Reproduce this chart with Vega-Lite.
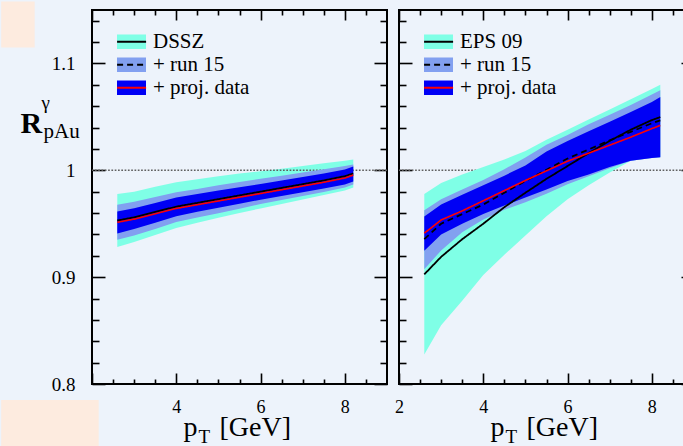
{
  "$schema": "https://vega.github.io/schema/vega-lite/v6.json",
  "background": "#edf3fb",
  "padding": 0,
  "bounds": "flush",
  "spacing": 12,
  "datasets": {
    "bandsL": [
      {"pt": 2.6, "band": "DSSZ", "lo": 0.9283, "hi": 0.9777},
      {"pt": 3.0, "band": "DSSZ", "lo": 0.9330, "hi": 0.9800},
      {"pt": 3.5, "band": "DSSZ", "lo": 0.9395, "hi": 0.9845},
      {"pt": 4.0, "band": "DSSZ", "lo": 0.9460, "hi": 0.9887},
      {"pt": 4.5, "band": "DSSZ", "lo": 0.9508, "hi": 0.9915},
      {"pt": 5.0, "band": "DSSZ", "lo": 0.9555, "hi": 0.9945},
      {"pt": 5.5, "band": "DSSZ", "lo": 0.9600, "hi": 0.9970},
      {"pt": 6.0, "band": "DSSZ", "lo": 0.9643, "hi": 0.9990},
      {"pt": 6.5, "band": "DSSZ", "lo": 0.9685, "hi": 1.0015},
      {"pt": 7.0, "band": "DSSZ", "lo": 0.9727, "hi": 1.0040},
      {"pt": 7.5, "band": "DSSZ", "lo": 0.9768, "hi": 1.0065},
      {"pt": 8.0, "band": "DSSZ", "lo": 0.9812, "hi": 1.0090},
      {"pt": 8.2, "band": "DSSZ", "lo": 0.9840, "hi": 1.0100},
      {"pt": 2.6, "band": "+ run 15", "lo": 0.9350, "hi": 0.9678},
      {"pt": 3.0, "band": "+ run 15", "lo": 0.9390, "hi": 0.9705},
      {"pt": 3.5, "band": "+ run 15", "lo": 0.9450, "hi": 0.9750},
      {"pt": 4.0, "band": "+ run 15", "lo": 0.9515, "hi": 0.9795},
      {"pt": 4.5, "band": "+ run 15", "lo": 0.9558, "hi": 0.9825},
      {"pt": 5.0, "band": "+ run 15", "lo": 0.9598, "hi": 0.9860},
      {"pt": 5.5, "band": "+ run 15", "lo": 0.9640, "hi": 0.9890},
      {"pt": 6.0, "band": "+ run 15", "lo": 0.9684, "hi": 0.9920},
      {"pt": 6.5, "band": "+ run 15", "lo": 0.9722, "hi": 0.9950},
      {"pt": 7.0, "band": "+ run 15", "lo": 0.9760, "hi": 0.9980},
      {"pt": 7.5, "band": "+ run 15", "lo": 0.9797, "hi": 1.0010},
      {"pt": 8.0, "band": "+ run 15", "lo": 0.9838, "hi": 1.0040},
      {"pt": 8.2, "band": "+ run 15", "lo": 0.9866, "hi": 1.0055},
      {"pt": 2.6, "band": "+ proj. data", "lo": 0.9408, "hi": 0.9615},
      {"pt": 3.0, "band": "+ proj. data", "lo": 0.9450, "hi": 0.9645},
      {"pt": 3.5, "band": "+ proj. data", "lo": 0.9510, "hi": 0.9695},
      {"pt": 4.0, "band": "+ proj. data", "lo": 0.9570, "hi": 0.9745},
      {"pt": 4.5, "band": "+ proj. data", "lo": 0.9612, "hi": 0.9778},
      {"pt": 5.0, "band": "+ proj. data", "lo": 0.9650, "hi": 0.9810},
      {"pt": 5.5, "band": "+ proj. data", "lo": 0.9688, "hi": 0.9842},
      {"pt": 6.0, "band": "+ proj. data", "lo": 0.9725, "hi": 0.9872},
      {"pt": 6.5, "band": "+ proj. data", "lo": 0.9760, "hi": 0.9905},
      {"pt": 7.0, "band": "+ proj. data", "lo": 0.9795, "hi": 0.9938},
      {"pt": 7.5, "band": "+ proj. data", "lo": 0.9830, "hi": 0.9970},
      {"pt": 8.0, "band": "+ proj. data", "lo": 0.9868, "hi": 1.0008},
      {"pt": 8.2, "band": "+ proj. data", "lo": 0.9894, "hi": 1.0035}
    ],
    "linesL": [
      {"pt": 2.6, "curve": "central", "r": 0.9530},
      {"pt": 3.0, "curve": "central", "r": 0.9560},
      {"pt": 3.5, "curve": "central", "r": 0.9610},
      {"pt": 4.0, "curve": "central", "r": 0.9660},
      {"pt": 4.5, "curve": "central", "r": 0.9695},
      {"pt": 5.0, "curve": "central", "r": 0.9730},
      {"pt": 5.5, "curve": "central", "r": 0.9765},
      {"pt": 6.0, "curve": "central", "r": 0.9800},
      {"pt": 6.5, "curve": "central", "r": 0.9835},
      {"pt": 7.0, "curve": "central", "r": 0.9870},
      {"pt": 7.5, "curve": "central", "r": 0.9905},
      {"pt": 8.0, "curve": "central", "r": 0.9945},
      {"pt": 8.2, "curve": "central", "r": 0.9970},
      {"pt": 2.6, "curve": "proj. data", "r": 0.9513},
      {"pt": 3.0, "curve": "proj. data", "r": 0.9543},
      {"pt": 3.5, "curve": "proj. data", "r": 0.9593},
      {"pt": 4.0, "curve": "proj. data", "r": 0.9643},
      {"pt": 4.5, "curve": "proj. data", "r": 0.9678},
      {"pt": 5.0, "curve": "proj. data", "r": 0.9713},
      {"pt": 5.5, "curve": "proj. data", "r": 0.9748},
      {"pt": 6.0, "curve": "proj. data", "r": 0.9783},
      {"pt": 6.5, "curve": "proj. data", "r": 0.9818},
      {"pt": 7.0, "curve": "proj. data", "r": 0.9853},
      {"pt": 7.5, "curve": "proj. data", "r": 0.9888},
      {"pt": 8.0, "curve": "proj. data", "r": 0.9928},
      {"pt": 8.2, "curve": "proj. data", "r": 0.9955}
    ],
    "bandsR": [
      {"pt": 2.6, "band": "EPS 09", "lo": 0.8275, "hi": 0.9777},
      {"pt": 3.0, "band": "EPS 09", "lo": 0.8550, "hi": 0.9880},
      {"pt": 3.5, "band": "EPS 09", "lo": 0.8780, "hi": 0.9960},
      {"pt": 4.0, "band": "EPS 09", "lo": 0.9020, "hi": 1.0030},
      {"pt": 4.5, "band": "EPS 09", "lo": 0.9210, "hi": 1.0100},
      {"pt": 5.0, "band": "EPS 09", "lo": 0.9390, "hi": 1.0180},
      {"pt": 5.5, "band": "EPS 09", "lo": 0.9570, "hi": 1.0285},
      {"pt": 6.0, "band": "EPS 09", "lo": 0.9730, "hi": 1.0380},
      {"pt": 6.5, "band": "EPS 09", "lo": 0.9860, "hi": 1.0475},
      {"pt": 7.0, "band": "EPS 09", "lo": 0.9980, "hi": 1.0570},
      {"pt": 7.5, "band": "EPS 09", "lo": 1.0090, "hi": 1.0665},
      {"pt": 8.0, "band": "EPS 09", "lo": 1.0115, "hi": 1.0760},
      {"pt": 8.2, "band": "EPS 09", "lo": 1.0122, "hi": 1.0800},
      {"pt": 2.6, "band": "+ run 15", "lo": 0.9073, "hi": 0.9627},
      {"pt": 3.0, "band": "+ run 15", "lo": 0.9250, "hi": 0.9730},
      {"pt": 3.5, "band": "+ run 15", "lo": 0.9420, "hi": 0.9820},
      {"pt": 4.0, "band": "+ run 15", "lo": 0.9540, "hi": 0.9910},
      {"pt": 4.5, "band": "+ run 15", "lo": 0.9630, "hi": 1.0010},
      {"pt": 5.0, "band": "+ run 15", "lo": 0.9700, "hi": 1.0120},
      {"pt": 5.5, "band": "+ run 15", "lo": 0.9780, "hi": 1.0240},
      {"pt": 6.0, "band": "+ run 15", "lo": 0.9870, "hi": 1.0330},
      {"pt": 6.5, "band": "+ run 15", "lo": 0.9945, "hi": 1.0430},
      {"pt": 7.0, "band": "+ run 15", "lo": 1.0020, "hi": 1.0520},
      {"pt": 7.5, "band": "+ run 15", "lo": 1.0090, "hi": 1.0610},
      {"pt": 8.0, "band": "+ run 15", "lo": 1.0115, "hi": 1.0710},
      {"pt": 8.2, "band": "+ run 15", "lo": 1.0122, "hi": 1.0748},
      {"pt": 2.6, "band": "+ proj. data", "lo": 0.9246, "hi": 0.9568},
      {"pt": 3.0, "band": "+ proj. data", "lo": 0.9400, "hi": 0.9680},
      {"pt": 3.5, "band": "+ proj. data", "lo": 0.9500, "hi": 0.9770},
      {"pt": 4.0, "band": "+ proj. data", "lo": 0.9590, "hi": 0.9860},
      {"pt": 4.5, "band": "+ proj. data", "lo": 0.9670, "hi": 0.9950},
      {"pt": 5.0, "band": "+ proj. data", "lo": 0.9746, "hi": 1.0045},
      {"pt": 5.5, "band": "+ proj. data", "lo": 0.9820, "hi": 1.0175},
      {"pt": 6.0, "band": "+ proj. data", "lo": 0.9900, "hi": 1.0275},
      {"pt": 6.5, "band": "+ proj. data", "lo": 0.9960, "hi": 1.0365},
      {"pt": 7.0, "band": "+ proj. data", "lo": 1.0030, "hi": 1.0455},
      {"pt": 7.5, "band": "+ proj. data", "lo": 1.0090, "hi": 1.0545},
      {"pt": 8.0, "band": "+ proj. data", "lo": 1.0115, "hi": 1.0640},
      {"pt": 8.2, "band": "+ proj. data", "lo": 1.0122, "hi": 1.0685}
    ],
    "linesR": [
      {"pt": 2.6, "curve": "central", "r": 0.9026},
      {"pt": 3.0, "curve": "central", "r": 0.9190},
      {"pt": 3.5, "curve": "central", "r": 0.9355},
      {"pt": 4.0, "curve": "central", "r": 0.9500},
      {"pt": 4.5, "curve": "central", "r": 0.9655},
      {"pt": 5.0, "curve": "central", "r": 0.9790},
      {"pt": 5.5, "curve": "central", "r": 0.9920},
      {"pt": 6.0, "curve": "central", "r": 1.0040},
      {"pt": 6.5, "curve": "central", "r": 1.0160},
      {"pt": 7.0, "curve": "central", "r": 1.0275},
      {"pt": 7.5, "curve": "central", "r": 1.0380},
      {"pt": 8.0, "curve": "central", "r": 1.0470},
      {"pt": 8.2, "curve": "central", "r": 1.0498},
      {"pt": 2.6, "curve": "run 15", "r": 0.9355},
      {"pt": 3.0, "curve": "run 15", "r": 0.9500},
      {"pt": 3.5, "curve": "run 15", "r": 0.9590},
      {"pt": 4.0, "curve": "run 15", "r": 0.9680},
      {"pt": 4.5, "curve": "run 15", "r": 0.9790},
      {"pt": 5.0, "curve": "run 15", "r": 0.9900},
      {"pt": 5.5, "curve": "run 15", "r": 1.0005},
      {"pt": 6.0, "curve": "run 15", "r": 1.0110},
      {"pt": 6.5, "curve": "run 15", "r": 1.0195},
      {"pt": 7.0, "curve": "run 15", "r": 1.0280},
      {"pt": 7.5, "curve": "run 15", "r": 1.0360},
      {"pt": 8.0, "curve": "run 15", "r": 1.0440},
      {"pt": 8.2, "curve": "run 15", "r": 1.0467},
      {"pt": 2.6, "curve": "proj. data", "r": 0.9411},
      {"pt": 3.0, "curve": "proj. data", "r": 0.9535},
      {"pt": 3.5, "curve": "proj. data", "r": 0.9620},
      {"pt": 4.0, "curve": "proj. data", "r": 0.9715},
      {"pt": 4.5, "curve": "proj. data", "r": 0.9810},
      {"pt": 5.0, "curve": "proj. data", "r": 0.9905},
      {"pt": 5.5, "curve": "proj. data", "r": 0.9995},
      {"pt": 6.0, "curve": "proj. data", "r": 1.0085},
      {"pt": 6.5, "curve": "proj. data", "r": 1.0160},
      {"pt": 7.0, "curve": "proj. data", "r": 1.0235},
      {"pt": 7.5, "curve": "proj. data", "r": 1.0310},
      {"pt": 8.0, "curve": "proj. data", "r": 1.0390},
      {"pt": 8.2, "curve": "proj. data", "r": 1.0420}
    ],
    "reference": [{"ref": 1}]
  },
  "hconcat": [
    {
      "width": 295,
      "height": 374,
      "resolve": {"axis": {"x": "independent", "y": "independent"}},
      "layer": [
        {
          "data": {"name": "bandsL"},
          "transform": [{"filter": "datum.band === 'DSSZ'"}],
          "mark": {"type": "area", "opacity": 1},
          "encoding": {
            "x": {"field": "pt", "type": "quantitative", "scale": {"domain": [2, 9], "nice": false, "zero": false},
                  "axis": {"orient": "bottom", "values": [2, 4, 6, 8], "tickSize": -11, "labelPadding": 25, "labelFontSize": 18, "title": "p", "titleX": 91, "titleY": 51, "titleAlign": "left", "titleBaseline": "alphabetic", "titleFontSize": 28}},
            "y": {"field": "lo", "type": "quantitative", "scale": {"domain": [0.8, 1.15], "nice": false, "zero": false},
                  "axis": {"orient": "left", "values": [0.8, 0.9, 1, 1.1], "format": "~g", "tickSize": -13, "labelPadding": 30, "title": "R", "titleX": -72, "titleY": 122, "titleAngle": 0, "titleAlign": "left", "titleBaseline": "alphabetic", "titleFontSize": 30, "titleFontWeight": "bold"}},
            "y2": {"field": "hi"},
            "fill": {"field": "band", "type": "nominal",
                     "scale": {"domain": ["DSSZ", "+ run 15", "+ proj. data"], "range": ["#7fffe6", "#82a0f0", "#0000f5"]},
                     "legend": {"orient": "none", "legendX": 25, "legendY": 21, "title": null, "symbolType": "M-1,-0.5H1V0.5H-1Z", "symbolSize": 841, "symbolStrokeWidth": 0, "symbolOpacity": 1, "labelFont": "Liberation Serif", "labelFontSize": 21, "labelColor": "#000", "labelOffset": 7, "clipHeight": 21.5, "rowPadding": 0, "padding": 0, "zindex": 1}}
          }
        },
        {
          "data": {"name": "reference"},
          "mark": {"type": "rule", "color": "#606060", "strokeWidth": 1.5, "strokeDash": [1.7, 1.6]},
          "encoding": {
            "y": {"field": "ref", "type": "quantitative", "scale": {"domain": [0.8, 1.15], "nice": false, "zero": false}, "axis": null}
          }
        },
        {
          "data": {"name": "bandsL"},
          "transform": [{"filter": "datum.band === '+ run 15'"}],
          "mark": {"type": "area", "opacity": 1},
          "encoding": {
            "x": {"field": "pt", "type": "quantitative", "scale": {"domain": [2, 9], "nice": false, "zero": false},
                  "axis": {"orient": "top", "values": [2, 4, 6, 8], "tickSize": -10, "labels": false, "title": null}},
            "y": {"field": "lo", "type": "quantitative", "scale": {"domain": [0.8, 1.15], "nice": false, "zero": false},
                  "axis": {"orient": "right", "values": [0.8, 0.9, 1, 1.1], "tickSize": -13, "labels": false, "title": null}},
            "y2": {"field": "hi"},
            "fill": {"field": "band", "type": "nominal",
                     "scale": {"domain": ["DSSZ", "+ run 15", "+ proj. data"], "range": ["#7fffe6", "#82a0f0", "#0000f5"]},
                     "legend": {"orient": "none", "legendX": 25, "legendY": 21, "title": null, "symbolType": "M-1,-0.5H1V0.5H-1Z", "symbolSize": 841, "symbolStrokeWidth": 0, "symbolOpacity": 1, "labelFont": "Liberation Serif", "labelFontSize": 21, "labelColor": "#000", "labelOffset": 7, "clipHeight": 21.5, "rowPadding": 0, "padding": 0, "zindex": 1}}
          }
        },
        {
          "data": {"name": "bandsL"},
          "transform": [{"filter": "datum.band === '+ proj. data'"}],
          "mark": {"type": "area", "opacity": 1},
          "encoding": {
            "x": {"field": "pt", "type": "quantitative", "scale": {"domain": [2, 9], "nice": false, "zero": false},
                  "axis": {"orient": "bottom", "values": [2.5, 3, 3.5, 4.5, 5, 5.5, 6.5, 7, 7.5, 8.5], "tickSize": -5, "labels": false, "title": "T", "titleX": 106, "titleY": 58, "titleAlign": "left", "titleBaseline": "alphabetic", "titleFontSize": 19}},
            "y": {"field": "lo", "type": "quantitative", "scale": {"domain": [0.8, 1.15], "nice": false, "zero": false},
                  "axis": {"orient": "left", "values": [0.82, 0.84, 0.86, 0.88, 0.92, 0.94, 0.96, 0.98, 1.02, 1.04, 1.06, 1.08, 1.12, 1.14], "tickSize": -7, "labels": false, "title": "γ", "titleX": -51, "titleY": 98, "titleAngle": 0, "titleAlign": "left", "titleBaseline": "alphabetic", "titleFontSize": 19}},
            "y2": {"field": "hi"},
            "fill": {"field": "band", "type": "nominal",
                     "scale": {"domain": ["DSSZ", "+ run 15", "+ proj. data"], "range": ["#7fffe6", "#82a0f0", "#0000f5"]},
                     "legend": {"orient": "none", "legendX": 25, "legendY": 21, "title": null, "symbolType": "M-1,-0.5H1V0.5H-1Z", "symbolSize": 841, "symbolStrokeWidth": 0, "symbolOpacity": 1, "labelFont": "Liberation Serif", "labelFontSize": 21, "labelColor": "#000", "labelOffset": 7, "clipHeight": 21.5, "rowPadding": 0, "padding": 0, "zindex": 1}}
          }
        },
        {
          "data": {"name": "linesL"},
          "transform": [{"filter": "datum.curve === 'central'"}],
          "mark": {"type": "line", "strokeWidth": 1.8},
          "encoding": {
            "x": {"field": "pt", "type": "quantitative", "scale": {"domain": [2, 9], "nice": false, "zero": false},
                  "axis": {"orient": "top", "values": [2.5, 3, 3.5, 4.5, 5, 5.5, 6.5, 7, 7.5, 8.5], "tickSize": -5, "labels": false, "title": null}},
            "y": {"field": "r", "type": "quantitative", "scale": {"domain": [0.8, 1.15], "nice": false, "zero": false},
                  "axis": {"orient": "right", "values": [0.82, 0.84, 0.86, 0.88, 0.92, 0.94, 0.96, 0.98, 1.02, 1.04, 1.06, 1.08, 1.12, 1.14], "tickSize": -7, "labels": false, "title": null}},
            "stroke": {"field": "curve", "type": "nominal",
                       "scale": {"domain": ["central", "run 15", "proj. data"], "range": ["#000000", "#000000", "#ff0000"]},
                       "legend": {"orient": "none", "legendX": 25, "legendY": 21, "title": null, "symbolType": "M-1,0H1", "symbolSize": 841, "symbolStrokeWidth": 1.8, "symbolOffset": -0.9, "labelFontSize": 21, "labelExpr": "''", "clipHeight": 21.5, "rowPadding": 0, "padding": 0, "zindex": 2}},
            "strokeDash": {"field": "curve", "type": "nominal",
                           "scale": {"domain": ["central", "run 15", "proj. data"], "range": [[1, 0], [6, 4], [1, 0]]},
                           "legend": {"orient": "none", "legendX": 25, "legendY": 21, "title": null, "symbolType": "M-1,0H1", "symbolSize": 841, "symbolStrokeWidth": 1.8, "symbolOffset": -0.9, "labelFontSize": 21, "labelExpr": "''", "clipHeight": 21.5, "rowPadding": 0, "padding": 0, "zindex": 2}}
          }
        },
        {
          "data": {"name": "linesL"},
          "transform": [{"filter": "datum.curve === 'proj. data'"}],
          "mark": {"type": "line", "strokeWidth": 1.6},
          "encoding": {
            "x": {"field": "pt", "type": "quantitative", "scale": {"domain": [2, 9], "nice": false, "zero": false},
                  "axis": {"orient": "bottom", "ticks": false, "labels": false, "title": "[GeV]", "titleX": 127, "titleY": 51, "titleAlign": "left", "titleBaseline": "alphabetic", "titleFontSize": 28}},
            "y": {"field": "r", "type": "quantitative", "scale": {"domain": [0.8, 1.15], "nice": false, "zero": false},
                  "axis": {"orient": "left", "ticks": false, "labels": false, "title": "pAu", "titleX": -49, "titleY": 127, "titleAngle": 0, "titleAlign": "left", "titleBaseline": "alphabetic", "titleFontSize": 21}},
            "stroke": {"field": "curve", "type": "nominal",
                       "scale": {"domain": ["central", "run 15", "proj. data"], "range": ["#000000", "#000000", "#ff0000"]},
                       "legend": {"orient": "none", "legendX": 25, "legendY": 21, "title": null, "symbolType": "M-1,0H1", "symbolSize": 841, "symbolStrokeWidth": 1.8, "symbolOffset": -0.9, "labelFontSize": 21, "labelExpr": "''", "clipHeight": 21.5, "rowPadding": 0, "padding": 0, "zindex": 2}},
            "strokeDash": {"field": "curve", "type": "nominal",
                           "scale": {"domain": ["central", "run 15", "proj. data"], "range": [[1, 0], [6, 4], [1, 0]]},
                           "legend": {"orient": "none", "legendX": 25, "legendY": 21, "title": null, "symbolType": "M-1,0H1", "symbolSize": 841, "symbolStrokeWidth": 1.8, "symbolOffset": -0.9, "labelFontSize": 21, "labelExpr": "''", "clipHeight": 21.5, "rowPadding": 0, "padding": 0, "zindex": 2}}
          }
        },
        {
          "data": {"values": [{}]},
          "mark": {"type": "rect", "color": "#fdebdf"},
          "encoding": {
            "x": {"datum": -0.155, "type": "quantitative", "scale": {"domain": [2, 9], "nice": false, "zero": false}, "axis": null},
            "x2": {"datum": 0.64},
            "y": {"datum": 1.158, "type": "quantitative", "scale": {"domain": [0.8, 1.15], "nice": false, "zero": false}, "axis": null},
            "y2": {"datum": 1.1149}
          }
        },
        {
          "data": {"values": [{}]},
          "mark": {"type": "rect", "color": "#fdebdf"},
          "encoding": {
            "x": {"datum": -0.155, "type": "quantitative", "scale": {"domain": [2, 9], "nice": false, "zero": false}, "axis": null},
            "x2": {"datum": 2.159},
            "y": {"datum": 0.785, "type": "quantitative", "scale": {"domain": [0.8, 1.15], "nice": false, "zero": false}, "axis": null},
            "y2": {"datum": 0.72}
          }
        }
      ]
    },
    {
      "width": 295,
      "height": 374,
      "resolve": {"axis": {"x": "independent", "y": "independent"}},
      "layer": [
        {
          "data": {"name": "reference"},
          "mark": {"type": "rule", "color": "#606060", "strokeWidth": 1.5, "strokeDash": [1.7, 1.6]},
          "encoding": {
            "y": {"field": "ref", "type": "quantitative", "scale": {"domain": [0.8, 1.15], "nice": false, "zero": false}, "axis": null}
          }
        },
        {
          "data": {"name": "bandsR"},
          "transform": [{"filter": "datum.band === 'EPS 09'"}],
          "mark": {"type": "area", "opacity": 1},
          "encoding": {
            "x": {"field": "pt", "type": "quantitative", "scale": {"domain": [2, 9], "nice": false, "zero": false},
                  "axis": {"orient": "bottom", "values": [2, 4, 6, 8], "tickSize": -11, "labelPadding": 25, "labelFontSize": 18, "title": "p", "titleX": 91, "titleY": 51, "titleAlign": "left", "titleBaseline": "alphabetic", "titleFontSize": 28}},
            "y": {"field": "lo", "type": "quantitative", "scale": {"domain": [0.8, 1.15], "nice": false, "zero": false},
                  "axis": {"orient": "left", "values": [0.8, 0.9, 1, 1.1], "tickSize": -13, "labels": false, "title": null}},
            "y2": {"field": "hi"},
            "fill": {"field": "band", "type": "nominal",
                     "scale": {"domain": ["EPS 09", "+ run 15", "+ proj. data"], "range": ["#7fffe6", "#82a0f0", "#0000f5"]},
                     "legend": {"orient": "none", "legendX": 25, "legendY": 21, "title": null, "symbolType": "M-1,-0.5H1V0.5H-1Z", "symbolSize": 841, "symbolStrokeWidth": 0, "symbolOpacity": 1, "labelFont": "Liberation Serif", "labelFontSize": 21, "labelColor": "#000", "labelOffset": 7, "clipHeight": 21.5, "rowPadding": 0, "padding": 0, "zindex": 1}}
          }
        },
        {
          "data": {"name": "bandsR"},
          "transform": [{"filter": "datum.band === '+ run 15'"}],
          "mark": {"type": "area", "opacity": 1},
          "encoding": {
            "x": {"field": "pt", "type": "quantitative", "scale": {"domain": [2, 9], "nice": false, "zero": false},
                  "axis": {"orient": "top", "values": [2, 4, 6, 8], "tickSize": -10, "labels": false, "title": null}},
            "y": {"field": "lo", "type": "quantitative", "scale": {"domain": [0.8, 1.15], "nice": false, "zero": false},
                  "axis": {"orient": "right", "values": [0.8, 0.9, 1, 1.1], "tickSize": -13, "labels": false, "title": null}},
            "y2": {"field": "hi"},
            "fill": {"field": "band", "type": "nominal",
                     "scale": {"domain": ["EPS 09", "+ run 15", "+ proj. data"], "range": ["#7fffe6", "#82a0f0", "#0000f5"]},
                     "legend": {"orient": "none", "legendX": 25, "legendY": 21, "title": null, "symbolType": "M-1,-0.5H1V0.5H-1Z", "symbolSize": 841, "symbolStrokeWidth": 0, "symbolOpacity": 1, "labelFont": "Liberation Serif", "labelFontSize": 21, "labelColor": "#000", "labelOffset": 7, "clipHeight": 21.5, "rowPadding": 0, "padding": 0, "zindex": 1}}
          }
        },
        {
          "data": {"name": "bandsR"},
          "transform": [{"filter": "datum.band === '+ proj. data'"}],
          "mark": {"type": "area", "opacity": 1},
          "encoding": {
            "x": {"field": "pt", "type": "quantitative", "scale": {"domain": [2, 9], "nice": false, "zero": false},
                  "axis": {"orient": "bottom", "values": [2.5, 3, 3.5, 4.5, 5, 5.5, 6.5, 7, 7.5, 8.5], "tickSize": -5, "labels": false, "title": "T", "titleX": 106, "titleY": 58, "titleAlign": "left", "titleBaseline": "alphabetic", "titleFontSize": 19}},
            "y": {"field": "lo", "type": "quantitative", "scale": {"domain": [0.8, 1.15], "nice": false, "zero": false},
                  "axis": {"orient": "left", "values": [0.82, 0.84, 0.86, 0.88, 0.92, 0.94, 0.96, 0.98, 1.02, 1.04, 1.06, 1.08, 1.12, 1.14], "tickSize": -7, "labels": false, "title": null}},
            "y2": {"field": "hi"},
            "fill": {"field": "band", "type": "nominal",
                     "scale": {"domain": ["EPS 09", "+ run 15", "+ proj. data"], "range": ["#7fffe6", "#82a0f0", "#0000f5"]},
                     "legend": {"orient": "none", "legendX": 25, "legendY": 21, "title": null, "symbolType": "M-1,-0.5H1V0.5H-1Z", "symbolSize": 841, "symbolStrokeWidth": 0, "symbolOpacity": 1, "labelFont": "Liberation Serif", "labelFontSize": 21, "labelColor": "#000", "labelOffset": 7, "clipHeight": 21.5, "rowPadding": 0, "padding": 0, "zindex": 1}}
          }
        },
        {
          "data": {"name": "linesR"},
          "transform": [{"filter": "datum.curve === 'central'"}],
          "mark": {"type": "line", "strokeWidth": 1.8},
          "encoding": {
            "x": {"field": "pt", "type": "quantitative", "scale": {"domain": [2, 9], "nice": false, "zero": false},
                  "axis": {"orient": "top", "values": [2.5, 3, 3.5, 4.5, 5, 5.5, 6.5, 7, 7.5, 8.5], "tickSize": -5, "labels": false, "title": null}},
            "y": {"field": "r", "type": "quantitative", "scale": {"domain": [0.8, 1.15], "nice": false, "zero": false},
                  "axis": {"orient": "right", "values": [0.82, 0.84, 0.86, 0.88, 0.92, 0.94, 0.96, 0.98, 1.02, 1.04, 1.06, 1.08, 1.12, 1.14], "tickSize": -7, "labels": false, "title": null}},
            "stroke": {"field": "curve", "type": "nominal",
                       "scale": {"domain": ["central", "run 15", "proj. data"], "range": ["#000000", "#000000", "#ff0000"]},
                       "legend": {"orient": "none", "legendX": 25, "legendY": 21, "title": null, "symbolType": "M-1,0H1", "symbolSize": 841, "symbolStrokeWidth": 1.8, "symbolOffset": -0.9, "labelFontSize": 21, "labelExpr": "''", "clipHeight": 21.5, "rowPadding": 0, "padding": 0, "zindex": 2}},
            "strokeDash": {"field": "curve", "type": "nominal",
                           "scale": {"domain": ["central", "run 15", "proj. data"], "range": [[1, 0], [6, 4], [1, 0]]},
                           "legend": {"orient": "none", "legendX": 25, "legendY": 21, "title": null, "symbolType": "M-1,0H1", "symbolSize": 841, "symbolStrokeWidth": 1.8, "symbolOffset": -0.9, "labelFontSize": 21, "labelExpr": "''", "clipHeight": 21.5, "rowPadding": 0, "padding": 0, "zindex": 2}}
          }
        },
        {
          "data": {"name": "linesR"},
          "transform": [{"filter": "datum.curve === 'run 15'"}],
          "mark": {"type": "line", "strokeWidth": 1.8},
          "encoding": {
            "x": {"field": "pt", "type": "quantitative", "scale": {"domain": [2, 9], "nice": false, "zero": false},
                  "axis": {"orient": "bottom", "ticks": false, "labels": false, "title": "[GeV]", "titleX": 127, "titleY": 51, "titleAlign": "left", "titleBaseline": "alphabetic", "titleFontSize": 28}},
            "y": {"field": "r", "type": "quantitative", "scale": {"domain": [0.8, 1.15], "nice": false, "zero": false}, "axis": null},
            "stroke": {"field": "curve", "type": "nominal",
                       "scale": {"domain": ["central", "run 15", "proj. data"], "range": ["#000000", "#000000", "#ff0000"]},
                       "legend": {"orient": "none", "legendX": 25, "legendY": 21, "title": null, "symbolType": "M-1,0H1", "symbolSize": 841, "symbolStrokeWidth": 1.8, "symbolOffset": -0.9, "labelFontSize": 21, "labelExpr": "''", "clipHeight": 21.5, "rowPadding": 0, "padding": 0, "zindex": 2}},
            "strokeDash": {"field": "curve", "type": "nominal",
                           "scale": {"domain": ["central", "run 15", "proj. data"], "range": [[1, 0], [6, 4], [1, 0]]},
                           "legend": {"orient": "none", "legendX": 25, "legendY": 21, "title": null, "symbolType": "M-1,0H1", "symbolSize": 841, "symbolStrokeWidth": 1.8, "symbolOffset": -0.9, "labelFontSize": 21, "labelExpr": "''", "clipHeight": 21.5, "rowPadding": 0, "padding": 0, "zindex": 2}}
          }
        },
        {
          "data": {"name": "linesR"},
          "transform": [{"filter": "datum.curve === 'proj. data'"}],
          "mark": {"type": "line", "strokeWidth": 1.6},
          "encoding": {
            "x": {"field": "pt", "type": "quantitative", "scale": {"domain": [2, 9], "nice": false, "zero": false}, "axis": null},
            "y": {"field": "r", "type": "quantitative", "scale": {"domain": [0.8, 1.15], "nice": false, "zero": false}, "axis": null},
            "stroke": {"field": "curve", "type": "nominal",
                       "scale": {"domain": ["central", "run 15", "proj. data"], "range": ["#000000", "#000000", "#ff0000"]},
                       "legend": {"orient": "none", "legendX": 25, "legendY": 21, "title": null, "symbolType": "M-1,0H1", "symbolSize": 841, "symbolStrokeWidth": 1.8, "symbolOffset": -0.9, "labelFontSize": 21, "labelExpr": "''", "clipHeight": 21.5, "rowPadding": 0, "padding": 0, "zindex": 2}},
            "strokeDash": {"field": "curve", "type": "nominal",
                           "scale": {"domain": ["central", "run 15", "proj. data"], "range": [[1, 0], [6, 4], [1, 0]]},
                           "legend": {"orient": "none", "legendX": 25, "legendY": 21, "title": null, "symbolType": "M-1,0H1", "symbolSize": 841, "symbolStrokeWidth": 1.8, "symbolOffset": -0.9, "labelFontSize": 21, "labelExpr": "''", "clipHeight": 21.5, "rowPadding": 0, "padding": 0, "zindex": 2}}
          }
        }
      ]
    }
  ],
  "resolve": {
    "scale": {"x": "independent", "y": "independent", "fill": "independent", "stroke": "independent", "strokeDash": "independent"},
    "legend": {"fill": "independent", "stroke": "independent", "strokeDash": "independent"}
  },
  "config": {
    "view": {"stroke": "#000000", "strokeWidth": 2},
    "axis": {
      "domain": false,
      "grid": false,
      "labelFont": "Liberation Serif",
      "labelFontSize": 19,
      "labelColor": "#000000",
      "labelFlush": false,
      "labelOverlap": false,
      "tickColor": "#000000",
      "tickWidth": 1.6,
      "titleFont": "Liberation Serif",
      "titleColor": "#000000",
      "titleFontWeight": "normal"
    }
  }
}
